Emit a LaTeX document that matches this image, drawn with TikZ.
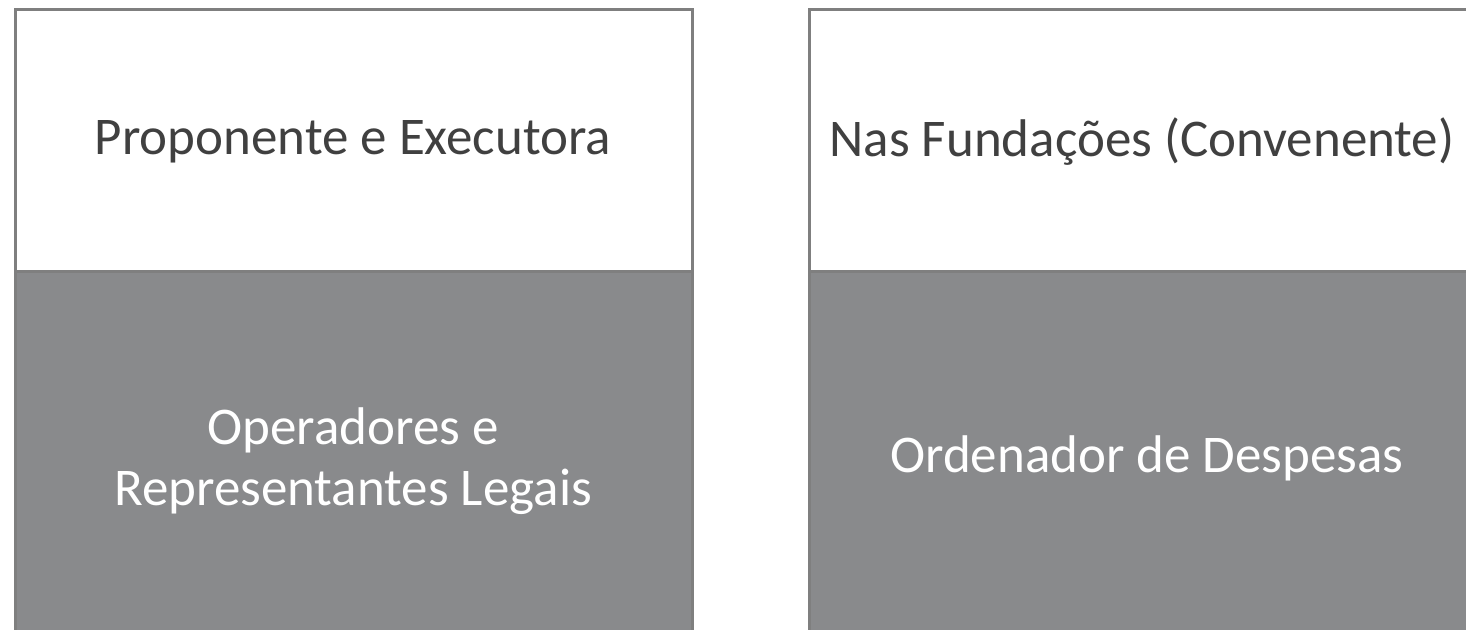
\documentclass[tikz,border=0pt]{standalone}
\usepackage{fontspec}
\setmainfont{Carlito}
\definecolor{edge}{HTML}{7F7F7F}
\definecolor{panel}{HTML}{898A8C}
\definecolor{txt}{HTML}{404040}
\begin{document}
\begin{tikzpicture}[x=1pt,y=-1pt,
  top/.style={draw=edge,line width=2.5pt,fill=white,minimum width=677pt,minimum height=262pt,anchor=north west,inner sep=0pt},
  bottom/.style={draw=edge,line width=2.5pt,fill=panel,minimum width=677pt,minimum height=378pt,anchor=north west,inner sep=0pt},
  lbl/.style={font=\fontsize{53}{61}\selectfont,align=center,inner sep=0pt}]
\useasboundingbox (0,0) rectangle (1466,629);
\node[top] (lt) at (14,8) {};
\node[bottom] (lb) at (14,270) {};
\node[top] (rt) at (808,8) {};
\node[bottom] (rb) at (808,270) {};
\node[lbl,text=txt] (l1) at (353,142) {Proponente e Executora};
\node[lbl,text=white] (l2) at (353,461) {Operadores e\\Representantes Legais};
\node[lbl,text=txt] (r1) at (1142,142) {Nas Fundações (Convenente)};
\node[lbl,text=white] (r2) at (1147,458) {Ordenador de Despesas};
\end{tikzpicture}
\end{document}
